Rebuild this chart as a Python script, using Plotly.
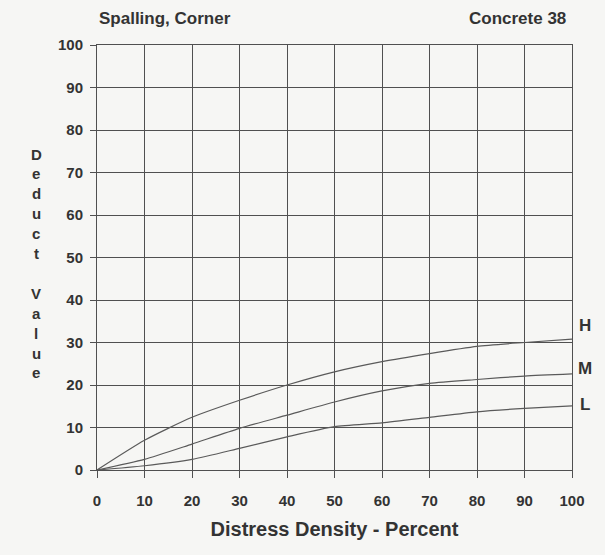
import plotly.graph_objects as go

# Deduct value curves for corner spalling (concrete, distress 38)
density = [0, 10, 20, 30, 40, 50, 60, 70, 80, 90, 100]
high = [0, 7.0, 12.4, 16.4, 20.0, 23.1, 25.5, 27.4, 29.1, 30.0, 30.8]
medium = [0, 2.5, 6.1, 9.8, 12.9, 16.0, 18.6, 20.4, 21.3, 22.1, 22.6]
low = [0, 1.0, 2.5, 5.1, 7.8, 10.2, 11.1, 12.4, 13.7, 14.5, 15.1]
levels = ["H", "M", "L"]
label_y = [33.9, 24.0, 15.3]

x_ticks = list(range(0, 101, 10))
y_ticks = list(range(0, 101, 10))

FONT = "Liberation Sans, Arial, sans-serif"
INK = "#333333"
GRID = "#505050"
BG = "#f6f6f4"

# Plot-area geometry in pixels
L_M, R_M, T_M, B_M = 97, 33, 45, 85
W, H = 605, 555
PW, PH = W - L_M - R_M, H - T_M - B_M

fig = go.Figure()
for series in (high, medium, low):
    fig.add_trace(go.Scatter(
        x=density, y=series, mode="lines",
        line=dict(color="#5a5a5a", width=1.2, shape="spline", smoothing=0.6),
        showlegend=False, hoverinfo="skip",
    ))

# Severity labels at the right end of the curves
for name, yv in zip(levels, label_y):
    fig.add_annotation(x=(585 - L_M) / PW, y=yv / 100, xref="paper", yref="paper",
                       text=name, showarrow=False, xanchor="center", yanchor="middle",
                       font=dict(family=FONT, size=17, color=INK, weight=600))

# Stacked vertical axis title
title_letters = list("Deduct") + [""] + list("Value")
for i, ch in enumerate(title_letters):
    if not ch:
        continue
    py = 154 + i * 19.9
    fig.add_annotation(x=(36 - L_M) / PW, y=1 - (py - T_M) / PH, xref="paper", yref="paper",
                       text=ch, showarrow=False, xanchor="center", yanchor="middle",
                       font=dict(family=FONT, size=15, color=INK, weight=600))

# Header texts
head_y = 1 + (T_M - 18) / PH
fig.add_annotation(x=0.0, y=head_y, xref="paper", yref="paper", text="Spalling, Corner",
                   showarrow=False, xanchor="left", yanchor="middle",
                   font=dict(family=FONT, size=17, color=INK, weight=600))
fig.add_annotation(x=(568 - L_M) / PW, y=head_y, xref="paper", yref="paper", text="Concrete 38",
                   showarrow=False, xanchor="right", yanchor="middle",
                   font=dict(family=FONT, size=17, color=INK, weight=600))

fig.update_layout(
    width=W, height=H,
    margin=dict(l=L_M, r=R_M, t=T_M, b=B_M),
    paper_bgcolor=BG, plot_bgcolor=BG,
    showlegend=False,
)
fig.update_xaxes(
    range=[0, 100], tickvals=x_ticks, ticktext=[str(v) for v in x_ticks],
    showgrid=True, gridcolor=GRID, gridwidth=1,
    showline=True, linecolor=GRID, linewidth=1, mirror=True,
    ticks="outside", ticklen=7, tickcolor=GRID,
    zeroline=False, ticklabelstandoff=10,
    tickfont=dict(family=FONT, size=15, color=INK, weight=600),
    title=dict(text="Distress Density - Percent", standoff=13,
               font=dict(family=FONT, size=20, color=INK, weight=600)),
)
fig.update_yaxes(
    range=[0, 100], tickvals=y_ticks, ticktext=[str(v) for v in y_ticks],
    showgrid=True, gridcolor=GRID, gridwidth=1.2,
    showline=True, linecolor=GRID, linewidth=1, mirror=True,
    ticks="outside", ticklen=6, tickcolor=GRID,
    zeroline=False, ticklabelstandoff=4,
    tickfont=dict(family=FONT, size=15, color=INK, weight=600),
)

fig.write_html("out.html")
